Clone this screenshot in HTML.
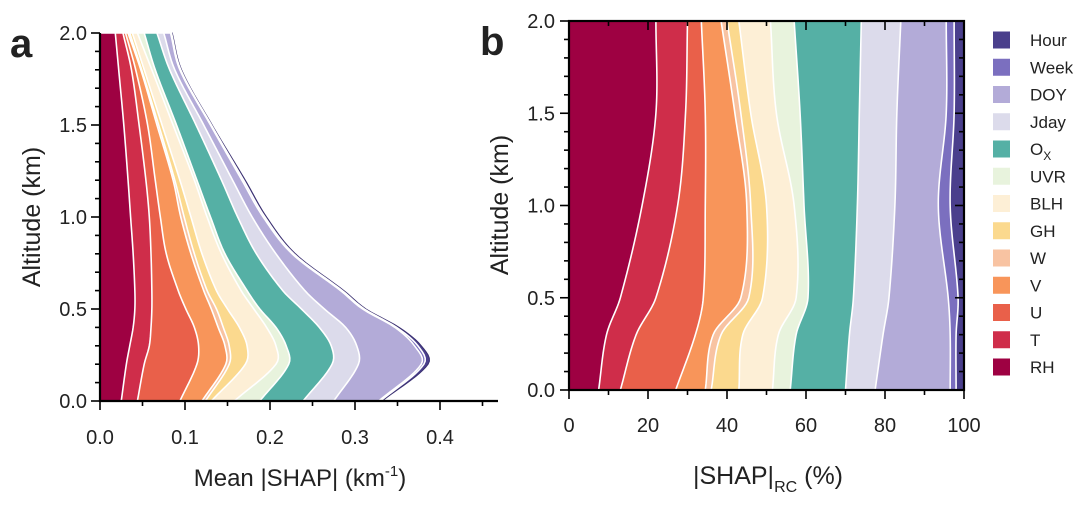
<!DOCTYPE html>
<html><head><meta charset="utf-8">
<style>
body{margin:0;background:#fff;width:1080px;height:501px;overflow:hidden;font-family:"Liberation Sans",sans-serif}
svg text{font-family:"Liberation Sans",sans-serif;fill:#222}
</style></head>
<body>
<svg id="fig" width="1080" height="501" viewBox="0 0 1080 501" xmlns="http://www.w3.org/2000/svg">
<g id="pa"></g>
<g id="pb"></g>
<g id="leg"></g>
</svg>
<script>
const features = ["RH","T","U","V","W","GH","BLH","UVR","Ox","Jday","DOY","Week","Hour"];
const colors = ["#9e0142","#cf2d4a","#e9604a","#f8955a","#f8c3a2","#fbd98e","#fdefd6","#e8f3dd","#55b0a5","#dcdbeb","#b3abd8","#7b6fbf","#4a3f8c"];
// Panel a: mean |SHAP| per feature at altitudes
const altA = [0,0.2,0.3,0.4,0.5,0.6,0.8,1.0,1.2,1.5,1.8,2.0];
const aRH   = [.025,.031,.035,.039,.041,.041,.039,.036,.033,.028,.022,.018];
const aT    = [.019,.021,.023,.021,.020,.020,.021,.022,.021,.018,.015,.009];
const aU    = [.050,.062,.058,.051,.040,.031,.018,.013,.011,.010,.005,.003];
const aV    = [.026,.034,.031,.028,.030,.030,.029,.024,.021,.011,.006,.003];
const aW    = [.004,.004,.005,.006,.006,.004,.004,.004,.002,.002,.001,.002];
const aGH   = [.007,.019,.021,.019,.013,.011,.009,.008,.006,.004,.003,.003];
const aBLH  = [.027,.036,.034,.032,.031,.029,.023,.019,.017,.013,.009,.006];
const aUVR  = [.030,.015,.012,.011,.007,.007,.004,.004,.003,.004,.004,.008];
const aOx   = [.051,.051,.053,.051,.049,.042,.037,.032,.029,.023,.017,.015];
const aJday = [.036,.031,.030,.031,.027,.026,.023,.017,.013,.009,.006,.008];
const aDOY  = [.053,.074,.068,.058,.045,.042,.019,.013,.011,.008,.006,.008];
const aWeek = [.002,.003,.004,.002,.002,.002,.002,.002,.002,.001,.001,.001];
const aHour = [.002,.005,.004,.003,.002,.002,.002,.002,.002,.001,.001,.001];
// Panel b: relative contribution (%)
const altB = [0,0.3,0.5,1.0,1.5,2.0];
const bRH   = [7.5,9.5,13,18.5,22,22];
const bT    = [5.5,7.5,9,9,7.5,8];
const bU    = [14,15,12,7,5,3.5];
const bV    = [7.5,4.5,9.5,10.5,7.5,5];
const bW    = [1.5,2,2,1,1.5,1.5];
const bGH   = [7,5.5,3.5,4,2.5,3];
const bBLH  = [8.5,9,8.5,7,6.5,8];
const bUVR  = [4.5,4.5,3,2.5,6,6];
const bOx   = [14,13.5,11.5,13.5,15,17];
const bJday = [7.5,8.5,9,9.5,9.5,10];
const bDOY  = [19,17,15,11,12.5,11.5];
const bWeek = [1.5,1.5,2.5,3,2,2];
const bHour = [2,2,1.5,3.5,2.5,2.5];
const ticksAX = [0,0.1,0.2,0.3,0.4];
const ticksY = [0,0.5,1.0,1.5,2.0];
const ticksBX = [0,20,40,60,80,100];

const seriesA=[aRH,aT,aU,aV,aW,aGH,aBLH,aUVR,aOx,aJday,aDOY,aWeek,aHour];
const seriesB=[bRH,bT,bU,bV,bW,bGH,bBLH,bUVR,bOx,bJday,bDOY,bWeek,bHour];
const NS="http://www.w3.org/2000/svg";
function mk(parent,tag,attrs,txt){const e=document.createElementNS(NS,tag);for(const k in attrs)e.setAttribute(k,attrs[k]);if(txt!==undefined)e.textContent=txt;parent.appendChild(e);return e;}

function sample(alts,vals,n){
  const out=[];
  for(let i=0;i<=n;i++){
    const a=alts[0]+(alts[alts.length-1]-alts[0])*i/n;
    let k=0;while(k<alts.length-2&&a>alts[k+1])k++;
    const a0=alts[k],a1=alts[k+1],t=(a-a0)/(a1-a0);
    const p1=vals[k],p2=vals[k+1];
    const p0=k>0?vals[k-1]:p1-(p2-p1);
    const p3=k+2<vals.length?vals[k+2]:p2+(p2-p1);
    const h0=k>0?alts[k-1]:a0-(a1-a0), h3=k+2<alts.length?alts[k+2]:a1+(a1-a0);
    const m1=(p2-p0)/(a1-h0)*(a1-a0), m2=(p3-p1)/(h3-a0)*(a1-a0);
    const t2=t*t,t3=t2*t;
    const v=(2*t3-3*t2+1)*p1+(t3-2*t2+t)*m1+(-2*t3+3*t2)*p2+(t3-t2)*m2;
    out.push([a,v]);
  }
  return out;
}

function drawPanel(g,alts,series,sx,sy,clipRight,name){
  let cum=alts.map(()=>0);
  const bounds=[cum.slice()];
  series.forEach(s=>{cum=cum.map((c,i)=>c+s[i]);bounds.push(cum.slice());});
  const samp=bounds.map(b=>sample(alts,b,120));
  for(let i=series.length-1;i>=0;i--){
    const up=samp[i+1];
    let d="M"+sx(0)+","+sy(alts[0]);
    up.forEach(p=>{d+=" L"+Math.min(sx(p[1]),clipRight).toFixed(2)+","+sy(p[0]).toFixed(2);});
    d+=" L"+sx(0)+","+sy(alts[alts.length-1])+" Z";
    const outer=(i===series.length-1&&name==='a');
    const p=mk(g,"path",{d:d,fill:colors[i],stroke:outer?"#3a3070":"#fff","stroke-width":outer?1:1.6});
    
    
  }
}

// ---- Panel A ----
const pa=document.getElementById('pa');
const axX=v=>100+v*850, ayY=a=>401-a*184;
drawPanel(pa,altA,seriesA,axX,ayY,498,'a');
mk(pa,"line",{x1:100,y1:33,x2:100,y2:402,stroke:"#000","stroke-width":2.2,});
mk(pa,"line",{x1:99,y1:401,x2:498,y2:401,stroke:"#000","stroke-width":2.2,});
for(let i=0;i<=20;i++){const y=ayY(i*0.1);const maj=i%5===0;mk(pa,"line",{x1:100,x2:maj?91:95,y1:y,y2:y,stroke:"#000","stroke-width":1.6});}
for(let i=0;i<=9;i++){const x=axX(i*0.05);mk(pa,"line",{x1:x,x2:x,y1:401,y2:i%2===0?410:406,stroke:"#000","stroke-width":1.6});}
ticksY.forEach(t=>{const e=mk(pa,"text",{x:87,y:ayY(t)+7,"text-anchor":"end","font-size":20},t.toFixed(1));});
ticksAX.forEach(t=>{const e=mk(pa,"text",{x:axX(t),y:444,"text-anchor":"middle","font-size":20},t.toFixed(1));});
mk(pa,"text",{x:300,y:486,"text-anchor":"middle","font-size":24,}).innerHTML='Mean |SHAP| (km<tspan dy="-10" font-size="15">-1</tspan><tspan dy="10">)</tspan>';
mk(pa,"text",{x:0,y:0,transform:"translate(40,217) rotate(-90)","text-anchor":"middle","font-size":25,},"Altitude (km)");
mk(pa,"text",{x:10,y:57,"font-size":40,"font-weight":"bold",fill:"#000",},"a");

// ---- Panel B ----
const pb=document.getElementById('pb');
const bxX=v=>569+v*3.95, byY=a=>390-a*184.5;
drawPanel(pb,altB,seriesB,bxX,byY,964,'b');
mk(pb,"rect",{x:569,y:21,width:395,height:369,fill:"none",stroke:"#000","stroke-width":2.2,});
for(let i=0;i<=20;i++){const y=byY(i*0.1);const maj=i%5===0;mk(pb,"line",{x1:569,x2:maj?560:564,y1:y,y2:y,stroke:"#000","stroke-width":1.6});mk(pb,"line",{x1:964,x2:maj?955:959,y1:y,y2:y,stroke:"#000","stroke-width":1.6});}
for(let i=0;i<=10;i++){const x=bxX(i*10);const maj=i%2===0;mk(pb,"line",{x1:x,x2:x,y1:390,y2:maj?399:395,stroke:"#000","stroke-width":1.6});mk(pb,"line",{x1:x,x2:x,y1:21,y2:maj?30:26,stroke:"#000","stroke-width":1.6});}
ticksY.forEach(t=>{const e=mk(pb,"text",{x:555,y:byY(t)+7,"text-anchor":"end","font-size":20},t.toFixed(1));});
ticksBX.forEach(t=>{const e=mk(pb,"text",{x:bxX(t),y:432,"text-anchor":"middle","font-size":20},String(t));});
mk(pb,"text",{x:768,y:484,"text-anchor":"middle","font-size":25,}).innerHTML='|SHAP|<tspan dy="8" font-size="16">RC</tspan><tspan dy="-8"> (%)</tspan>';
mk(pb,"text",{x:0,y:0,transform:"translate(508,205) rotate(-90)","text-anchor":"middle","font-size":25,},"Altitude (km)");
mk(pb,"text",{x:480,y:55,"font-size":40,"font-weight":"bold",fill:"#000",},"b");

// ---- Legend ----
const leg=document.getElementById('leg');
for(let i=features.length-1,j=0;i>=0;i--,j++){
  const y=40+j*27.25;
  const r=mk(leg,"rect",{x:993,y:y-8.5,width:17,height:17,fill:colors[i]});
  
  
  const t=mk(leg,"text",{x:1030,y:y+6,"font-size":17});
  if(features[i]==="Ox"){t.innerHTML='O<tspan dy="5" font-size="12">X</tspan>';}else{t.textContent=features[i];}
  
  
}
</script>
</body></html>
